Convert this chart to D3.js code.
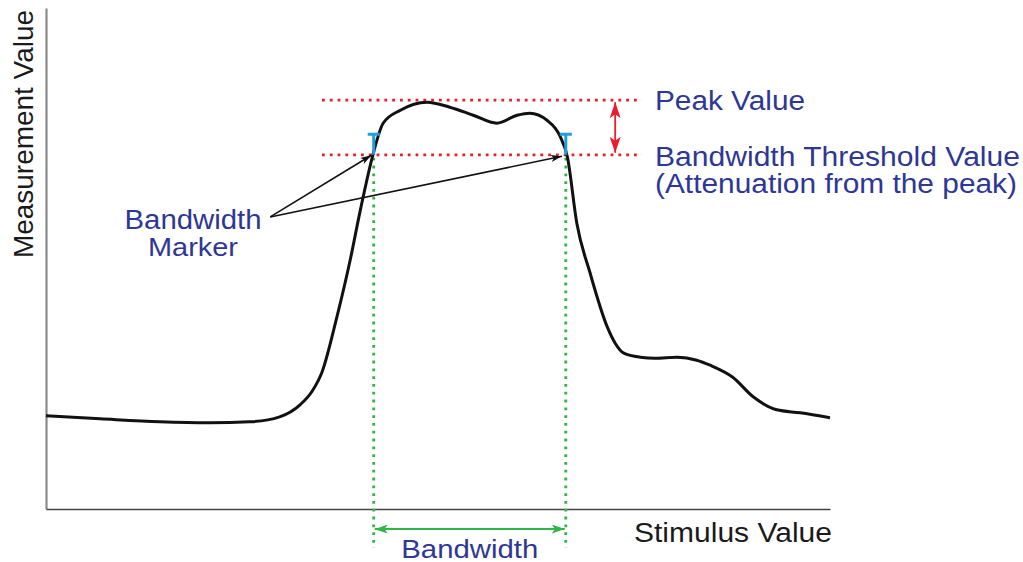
<!DOCTYPE html>
<html><head><meta charset="utf-8">
<script src="https://cdn.jsdelivr.net/npm/d3@7"></script>
<style>html,body{margin:0;padding:0;background:#fff}svg{display:block}</style>
</head><body>
<svg id="chart" width="1023" height="562"></svg>
<script>
// ---- data (arbitrary units: stimulus 0..100, measurement 0..100) ----
const stimulus = [0, 6.9, 14.5, 20.9, 26.0, 29.8, 32.4, 33.9, 35.2, 37.1, 38.8, 40.1, 41.7, 43.0, 45.2, 48.6, 51.5, 54.5, 57.5, 60.1, 61.7, 63.9, 65.6, 66.5, 67.7, 69.4, 71.6, 72.6, 73.7, 75.8, 77.7, 80.5, 83.0, 84.7, 87.6, 90.2, 93.2, 96.2, 100];
const measurement = [18.6, 18.0, 17.4, 17.2, 17.4, 18.4, 20.8, 23.4, 27.3, 38.3, 49.7, 59.7, 70.7, 77.0, 79.6, 81.2, 80.2, 78.6, 77.0, 78.6, 79.0, 77.6, 74.3, 70.3, 57.1, 47.1, 36.3, 33.1, 31.1, 30.3, 30.1, 30.3, 29.7, 28.7, 26.3, 22.4, 19.8, 19.2, 18.2];
const peakValue = 81.6;
const thresholdValue = 70.7;
const bandwidthEdges = [41.8, 66.3];
const refLineRange = [35.2, 76.0];
const thresholdArrowX = 72.6;
const markerTop = 75.0;
const markerLabelAnchor = [28.6, 58.3];
const markerTargets = [[41.5, 70.6], [65.8, 70.4]];
const bandwidthArrowY = -4.0;
const bandwidthLineBottom = -7.8;
const labels = {
  peak: "Peak Value",
  threshold: "Bandwidth Threshold Value",
  attenuation: "(Attenuation from the peak)",
  marker1: "Bandwidth",
  marker2: "Marker",
  bandwidth: "Bandwidth",
  xTitle: "Stimulus Value",
  yTitle: "Measurement Value"
};

// ---- setup ----
const svg = d3.select("#chart");
const x = d3.scaleLinear().domain([0, 100]).range([46, 830]);
const y = d3.scaleLinear().domain([0, 100]).range([509, 8]);
const FONT = "'Liberation Sans', Arial, Helvetica, sans-serif";
const BLUE = "#2e3796", RED = "#ec1c2e", GREEN = "#2fb548", CYAN = "#1e9de3";

const defs = svg.append("defs");
function arrowMarker(id, color, w, h, orient) {
  defs.append("marker").attr("id", id)
    .attr("viewBox", `0 0 ${w} ${h}`).attr("refX", w).attr("refY", h / 2)
    .attr("markerWidth", w).attr("markerHeight", h).attr("markerUnits", "userSpaceOnUse")
    .attr("orient", orient)
    .append("path").attr("d", `M0,0 L${w},${h/2} L0,${h} L${w*0.25},${h/2} Z`).attr("fill", color);
}
arrowMarker("ablack", "#111", 11, 7, "auto");
arrowMarker("ared", RED, 16, 11, "auto-start-reverse");
arrowMarker("agreen", GREEN, 13, 9, "auto-start-reverse");

// ---- axes (no ticks) ----
svg.append("g").attr("transform", `translate(${x(0)},0)`)
  .call(d3.axisLeft(y).tickValues([]).tickSizeOuter(0))
  .select(".domain").attr("stroke", "#8a8a8a").attr("stroke-width", 2.2);
svg.append("g").attr("transform", `translate(0,${y(0)})`)
  .call(d3.axisBottom(x).tickValues([]).tickSizeOuter(0))
  .select(".domain").attr("stroke", "#444").attr("stroke-width", 1.5);

// ---- green bandwidth dotted verticals ----
svg.selectAll(".bwline").data(bandwidthEdges).join("line")
  .attr("x1", d => x(d)).attr("x2", d => x(d))
  .attr("y1", y(thresholdValue) + 3).attr("y2", y(bandwidthLineBottom))
  .attr("stroke", GREEN).attr("stroke-width", 2.8).attr("stroke-dasharray", "2.8,5");

// ---- red dotted reference lines ----
svg.selectAll(".refline").data([peakValue, thresholdValue]).join("line")
  .attr("x1", x(refLineRange[0])).attr("x2", x(refLineRange[1]))
  .attr("y1", d => y(d)).attr("y2", d => y(d))
  .attr("stroke", RED).attr("stroke-width", 2.8).attr("stroke-dasharray", "2.8,5");

// ---- curve ----
const line = d3.line().x((d, i) => x(stimulus[i])).y(d => y(d)).curve(d3.curveMonotoneX);
svg.append("path").datum(measurement).attr("d", line)
  .attr("fill", "none").attr("stroke", "#111").attr("stroke-width", 3).attr("stroke-linejoin", "round");

// ---- bandwidth markers (cyan I shapes) ----
const mk = svg.append("g").attr("stroke", CYAN).attr("stroke-width", 3);
bandwidthEdges.forEach(d => {
  mk.append("line").attr("x1", x(d)).attr("x2", x(d)).attr("y1", y(markerTop)).attr("y2", y(thresholdValue));
  mk.append("line").attr("x1", x(d) - 6).attr("x2", x(d) + 6).attr("y1", y(markerTop) + 1).attr("y2", y(markerTop) + 1);
});

// ---- red double arrow ----
svg.append("line").attr("x1", x(thresholdArrowX)).attr("x2", x(thresholdArrowX))
  .attr("y1", y(peakValue) + 2).attr("y2", y(thresholdValue) - 2)
  .attr("stroke", RED).attr("stroke-width", 1.8)
  .attr("marker-start", "url(#ared)").attr("marker-end", "url(#ared)");

// ---- green bandwidth arrow ----
svg.append("line").attr("x1", x(bandwidthEdges[0]) + 1).attr("x2", x(bandwidthEdges[1]) - 1)
  .attr("y1", y(bandwidthArrowY)).attr("y2", y(bandwidthArrowY))
  .attr("stroke", GREEN).attr("stroke-width", 2)
  .attr("marker-start", "url(#agreen)").attr("marker-end", "url(#agreen)");

// ---- marker pointer arrows ----
svg.selectAll(".ptr").data(markerTargets).join("line")
  .attr("x1", x(markerLabelAnchor[0])).attr("y1", y(markerLabelAnchor[1]))
  .attr("x2", d => x(d[0])).attr("y2", d => y(d[1]))
  .attr("stroke", "#111").attr("stroke-width", 1.6).attr("marker-end", "url(#ablack)");

// ---- text ----
function txt(str, px, py, opts = {}) {
  const t = svg.append("text").attr("x", px).attr("y", py).text(str)
    .attr("font-family", FONT).attr("font-size", opts.size || 27)
    .attr("fill", opts.color || BLUE).attr("text-anchor", opts.anchor || "start");
  if (opts.len) t.attr("textLength", opts.len).attr("lengthAdjust", "spacingAndGlyphs");
  if (opts.transform) t.attr("transform", opts.transform);
  return t;
}
txt(labels.peak, 655, 110, {len: 150});
txt(labels.threshold, 655, 166, {len: 365});
txt(labels.attenuation, 655, 193, {len: 362});
txt(labels.marker1, 193, 229, {anchor: "middle", len: 137});
txt(labels.marker2, 193, 256, {anchor: "middle", len: 90, size: 26});
txt(labels.bandwidth, (x(bandwidthEdges[0]) + x(bandwidthEdges[1])) / 2, 558, {anchor: "middle", len: 137, size: 26});
txt(labels.xTitle, 832, 542, {anchor: "end", color: "#1a1a1a", len: 198});
txt(labels.yTitle, 0, 0, {color: "#1a1a1a", len: 248, transform: "translate(33,258) rotate(-90)"});
</script>
</body></html>
